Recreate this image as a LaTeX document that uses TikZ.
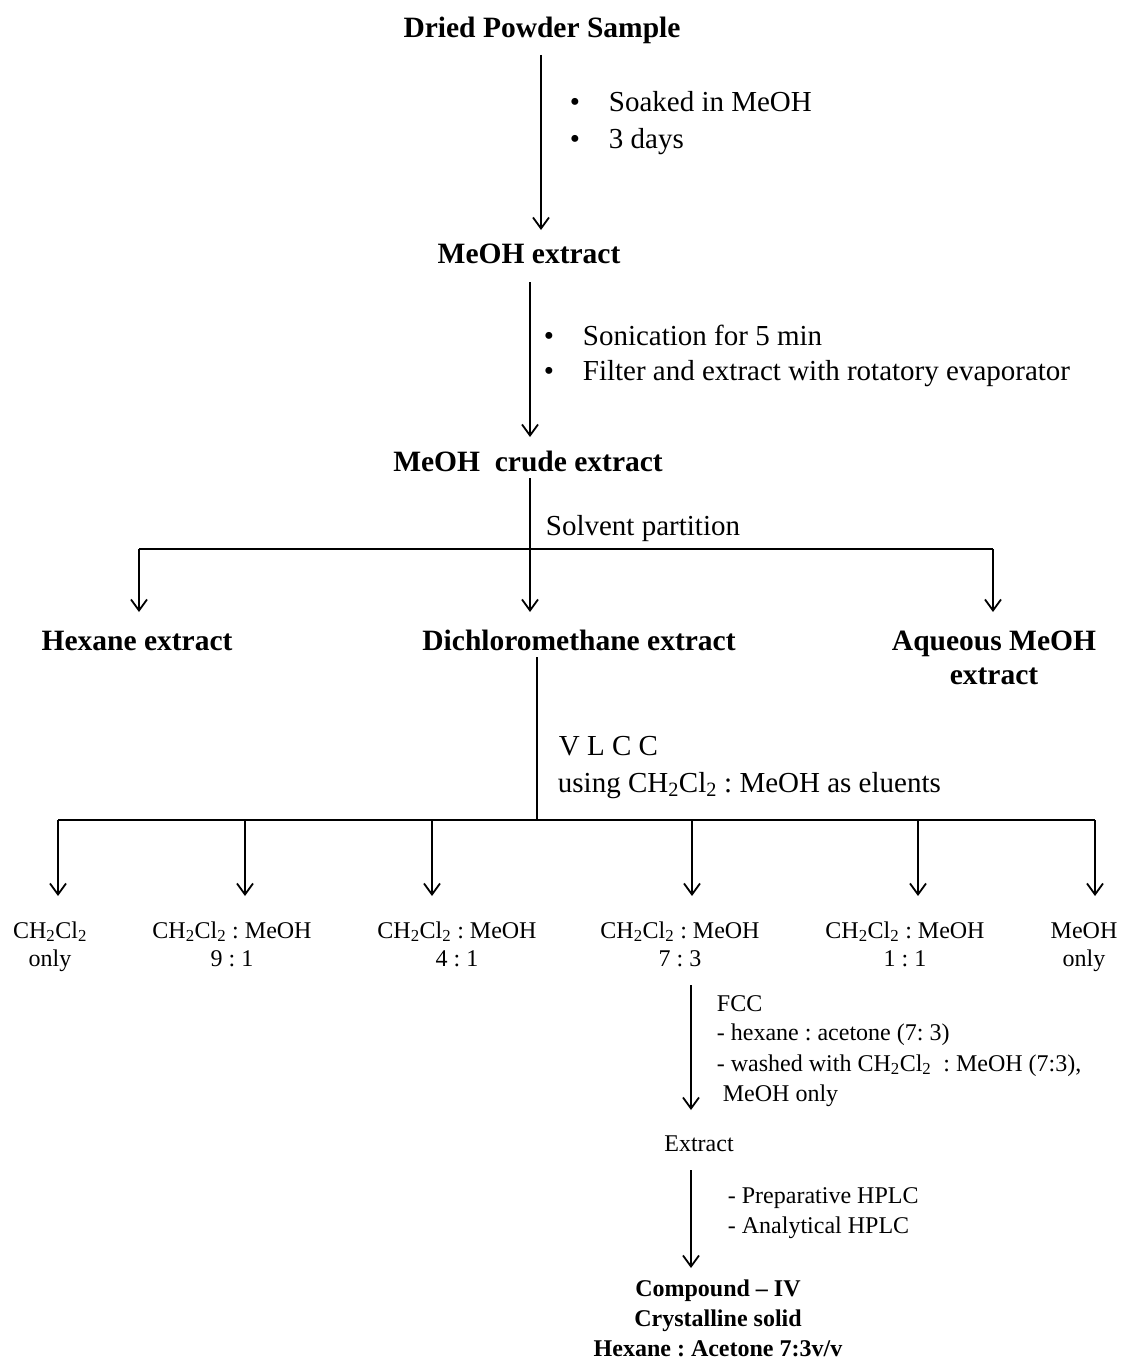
\documentclass[tikz,border=0pt]{standalone}
\usepackage{fontspec}
\setmainfont{Liberation Serif}
\usetikzlibrary{arrows.meta}
\frenchspacing
\newcommand{\chcl}{CH\textsubscript{2}Cl\textsubscript{2}}
\begin{document}
\begin{tikzpicture}[x=1pt,y=-1pt,
  line width=1.8pt,
  arr/.style={-{Straight Barb[length=11pt,width=16pt,line width=1.8pt]}},
  head/.style={font=\fontsize{29.5}{34}\selectfont\bfseries, inner sep=0pt, anchor=base, align=center},
  headsm/.style={font=\fontsize{24}{30}\selectfont\bfseries, inner sep=0pt, anchor=base, align=center},
  txt/.style={font=\fontsize{29}{36}\selectfont, inner sep=0pt, anchor=base west},
  sm/.style={font=\fontsize{24}{28}\selectfont, inner sep=0pt, anchor=base, align=center},
  smw/.style={font=\fontsize{24}{30}\selectfont, inner sep=0pt, anchor=base west},
  bul/.style={txt},
]
\useasboundingbox[fill=white] (0,0) rectangle (1125,1362);

% ---------- top stages ----------
\node[head] (dps) at (542,38) {Dried Powder Sample};
\node[bul] (b1) at (569,112) {\makebox[39pt][l]{\textbullet}Soaked in MeOH};
\node[bul] (b2) at (569,148) {\makebox[39pt][l]{\textbullet}3 days};
\node[head] (meoh) at (529,263) {MeOH extract};
\node[bul] (b3) at (543,345) {\makebox[39pt][l]{\textbullet}Sonication for 5 min};
\node[bul] (b4) at (543,380) {\makebox[39pt][l]{\textbullet}Filter and extract with rotatory evaporator};
\node[head] (crude) at (528,471) {MeOH\ \ crude extract};
\node[txt] (solv) at (545,535) {Solvent partition};

\coordinate (s1) at (541,55);  \coordinate (e1) at (541,230);
\coordinate (s2) at (530,282); \coordinate (e2) at (530,437);
\draw[arr] (s1) -- (e1);
\draw[arr] (s2) -- (e2);

% ---------- solvent partition ----------
\coordinate (s3) at (530,478);
\coordinate (j3) at (530,549);
\coordinate (bl) at (139,549);
\coordinate (br) at (993,549);
\draw (s3) -- (j3);
\draw (bl) -- (br);

\node[head] (hex) at (137,650) {Hexane extract};
\node[head] (dcm) at (579,650) {Dichloromethane extract};
\node[head] (aq) at (994,684) {Aqueous MeOH\\extract};

\coordinate (th) at (139,612);
\coordinate (td) at (530,612);
\coordinate (ta) at (993,612);
\draw[arr] (bl) -- (th);
\draw[arr] (j3) -- (td);
\draw[arr] (br) -- (ta);

% ---------- VLCC ----------
\coordinate (s4) at (537,657);
\coordinate (j4) at (537,820);
\draw (s4) -- (j4);
\node[txt] (vlcc) at (558,755) {V L C C};
\node[txt] (using) at (557,792) {using \chcl\ : MeOH as eluents};

\coordinate (c1) at (58,820);
\coordinate (c6) at (1095,820);
\draw (c1) -- (c6);

\node[sm] (f1) at (50,966) {\chcl\\only};
\node[sm] (f2) at (232,966) {\chcl\ : MeOH\\9 : 1};
\node[sm] (f3) at (457,966) {\chcl\ : MeOH\\4 : 1};
\node[sm] (f4) at (680,966) {\chcl\ : MeOH\\7 : 3};
\node[sm] (f5) at (905,966) {\chcl\ : MeOH\\1 : 1};
\node[sm] (f6) at (1084,966) {MeOH\\only};

\foreach \x/\n in {58/1,245/2,432/3,692/4,918/5,1095/6}{
  \coordinate (u\n) at (\x,820);
  \coordinate (v\n) at (\x,896);
  \draw[arr] (u\n) -- (v\n);
}

% ---------- FCC ----------
\coordinate (s5) at (691,985); \coordinate (e5) at (691,1110);
\draw[arr] (s5) -- (e5);
\node[smw] (fcc1) at (716,1011) {FCC};
\node[smw] (fcc2) at (716,1040) {- hexane : acetone (7: 3)};
\node[smw] (fcc3) at (716,1071) {- washed with \chcl\ \ : MeOH (7:3),};
\node[smw] (fcc4) at (722,1101) {MeOH only};

\node[sm] (ext) at (699,1151) {Extract};

\coordinate (s6) at (691,1170); \coordinate (e6) at (691,1268);
\draw[arr] (s6) -- (e6);
\node[smw] (h1) at (727,1203) {- Preparative HPLC};
\node[smw] (h2) at (727,1233) {- Analytical HPLC};

\node[headsm] (cmp) at (718,1356) {Compound -- IV\\Crystalline solid\\Hexane : Acetone 7:3v/v};
\end{tikzpicture}
\end{document}
